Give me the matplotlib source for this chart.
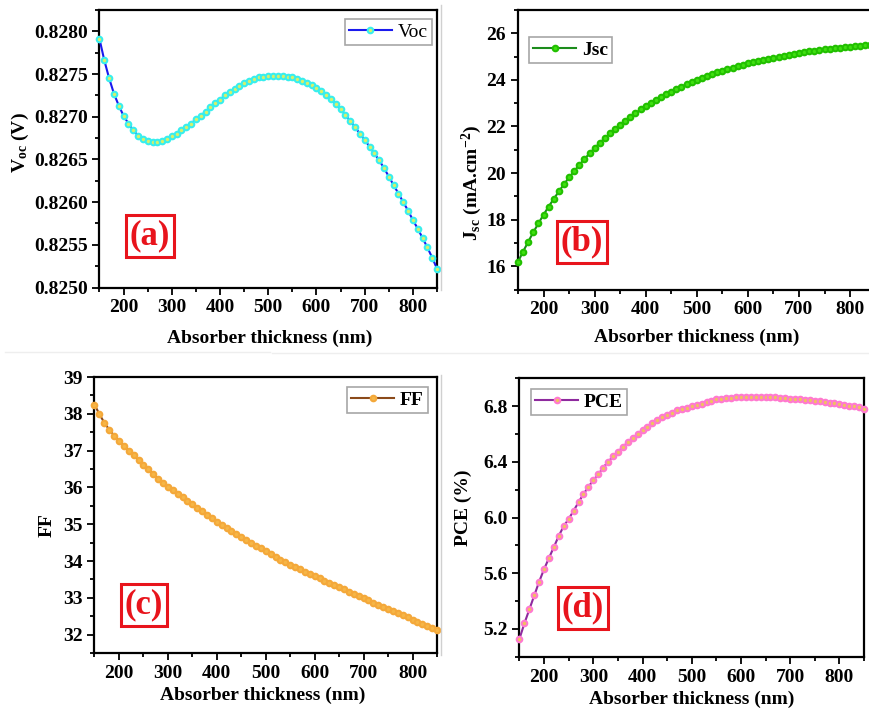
import matplotlib
matplotlib.use("Agg")
import matplotlib.pyplot as plt
from matplotlib.ticker import MultipleLocator, FormatStrFormatter
from matplotlib.lines import Line2D

plt.rcParams['font.family'] = ['Liberation Serif', 'DejaVu Serif']
plt.rcParams['font.weight'] = 'bold'
plt.rcParams['mathtext.fontset'] = 'custom'
plt.rcParams['mathtext.rm'] = 'Liberation Serif:bold'
plt.rcParams['mathtext.it'] = 'Liberation Serif:bold'
plt.rcParams['mathtext.bf'] = 'Liberation Serif:bold'

thickness = list(range(150, 851, 10))

voc = [0.82791, 0.82766, 0.82745, 0.82727, 0.82713, 0.82701, 0.82692, 0.82684, 0.82678, 0.82674,
       0.82671, 0.82670, 0.82670, 0.82672, 0.82674, 0.82677, 0.82680, 0.82684, 0.82688, 0.82692,
       0.82697, 0.82701, 0.82706, 0.82711, 0.82716, 0.82720, 0.82725, 0.82729, 0.82733, 0.82736,
       0.82739, 0.82742, 0.82744, 0.82746, 0.82747, 0.82748, 0.82748, 0.82748, 0.82748, 0.82747,
       0.82746, 0.82744, 0.82742, 0.82740, 0.82737, 0.82734, 0.82730, 0.82725, 0.82721, 0.82715,
       0.82709, 0.82702, 0.82695, 0.82688, 0.82680, 0.82673, 0.82665, 0.82657, 0.82649, 0.82640,
       0.82630, 0.82620, 0.82610, 0.82600, 0.82590, 0.82579, 0.82569, 0.82558, 0.82547, 0.82535,
       0.82522]

jsc = [16.19, 16.63, 17.05, 17.46, 17.84, 18.21, 18.56, 18.89, 19.21, 19.52,
       19.81, 20.08, 20.35, 20.60, 20.84, 21.07, 21.29, 21.50, 21.70, 21.89,
       22.08, 22.25, 22.42, 22.57, 22.73, 22.87, 23.01, 23.14, 23.27, 23.39,
       23.50, 23.61, 23.71, 23.81, 23.91, 24.00, 24.08, 24.17, 24.25, 24.32,
       24.39, 24.46, 24.53, 24.59, 24.65, 24.71, 24.76, 24.81, 24.86, 24.91,
       24.95, 25.00, 25.04, 25.08, 25.12, 25.15, 25.19, 25.22, 25.25, 25.28,
       25.31, 25.33, 25.36, 25.38, 25.41, 25.43, 25.45, 25.47, 25.49, 25.51,
       25.53]

ff = [38.25, 37.99, 37.76, 37.57, 37.41, 37.27, 37.13, 37.00, 36.87, 36.74,
      36.61, 36.49, 36.37, 36.24, 36.12, 36.01, 35.92, 35.82, 35.73, 35.63,
      35.54, 35.44, 35.35, 35.25, 35.16, 35.06, 34.97, 34.89, 34.81, 34.73,
      34.65, 34.57, 34.49, 34.42, 34.34, 34.26, 34.19, 34.11, 34.04, 33.97,
      33.90, 33.84, 33.77, 33.71, 33.65, 33.59, 33.53, 33.47, 33.41, 33.35,
      33.29, 33.23, 33.17, 33.11, 33.05, 32.99, 32.93, 32.87, 32.81, 32.76,
      32.70, 32.64, 32.58, 32.52, 32.47, 32.41, 32.35, 32.29, 32.24, 32.18,
      32.12]

pce = [5.13, 5.24, 5.34, 5.44, 5.54, 5.63, 5.71, 5.79, 5.87, 5.94,
       5.99, 6.05, 6.11, 6.17, 6.22, 6.27, 6.31, 6.36, 6.40, 6.44,
       6.47, 6.51, 6.54, 6.57, 6.60, 6.63, 6.65, 6.68, 6.70, 6.72,
       6.74, 6.75, 6.77, 6.78, 6.79, 6.80, 6.81, 6.82, 6.83, 6.84,
       6.85, 6.85, 6.86, 6.86, 6.865, 6.87, 6.87, 6.87, 6.87, 6.87,
       6.868, 6.866, 6.864, 6.862, 6.859, 6.856, 6.853, 6.850, 6.847, 6.843,
       6.839, 6.835, 6.831, 6.827, 6.822, 6.817, 6.811, 6.805, 6.799, 6.792,
       6.784]

W, H = 870, 711
fig = plt.figure(figsize=(W / 100, H / 100), dpi=100)


def add_ax(left, top, right, bottom):
    return fig.add_axes([left / W, 1 - bottom / H, (right - left) / W, (bottom - top) / H])


def px2ax(ax, x, y):
    pos = ax.get_position()
    fx, fy = x / W, 1 - y / H
    return (fx - pos.x0) / pos.width, (fy - pos.y0) / pos.height


panels = [
    dict(box=(99.5, 10, 437, 287.5), y=voc, ylim=(0.8250, 0.82825), major=0.0005, minor=0.00025,
         fmt='%.4f', line='#1a1aee', mface='#d6f06a', medge='#38eeee', label='Voc', lweight='normal',
         loc='upper right', legbox=(347, 19, 432, 45), ylabel='V$_{\\mathregular{oc}}$ (V)',
         ylab=(20, 143), xlab=(270, 338), tag='(a)', tagc=(150, 236)),
    dict(box=(518, 10, 875.6, 289.5), y=jsc, ylim=(15, 27), major=2, minor=1,
         fmt='%d', line='#1c8c1c', mface='#3fe010', medge='#22c000', label='Jsc', lweight='bold',
         loc='upper left', legbox=(529, 37, 613, 65),
         ylabel='J$_{\\mathregular{sc}}$ (mA.cm$^{\\mathregular{-2}}$)',
         ylab=(472, 183), xlab=(697, 337), tag='(b)', tagc=(582, 242)),
    dict(box=(94.5, 377, 437, 653), y=ff, ylim=(31.5, 39), major=1, minor=0.5,
         fmt='%d', line='#8b4a1a', mface='#f6b646', medge='#f4a83a', label='FF', lweight='bold',
         loc='upper right', legbox=(350, 387, 428, 414), ylabel='FF',
         ylab=(47, 525), xlab=(263, 695), tag='(c)', tagc=(144, 605)),
    dict(box=(519.5, 378.5, 864, 656.7), y=pce, ylim=(5.0, 7.0), major=0.4, minor=0.2,
         fmt='%.1f', line='#8e2a9e', mface='#f0c060', medge='#ff7ad0', label='PCE', lweight='bold',
         loc='upper left', legbox=(531, 389, 625, 417), ylabel='PCE (%)',
         ylab=(463, 508), xlab=(692, 699), tag='(d)', tagc=(583, 608)),
]

for p in panels:
    ax = add_ax(*p['box'])
    ax.plot(thickness, p['y'], color=p['line'], lw=1.5, marker='o', ms=4.0,
            mfc=p['mface'], mec=p['medge'], mew=1.5, clip_on=False, zorder=3)
    ax.set_xlim(150, 850)
    ax.set_ylim(*p['ylim'])
    ax.xaxis.set_major_locator(MultipleLocator(100))
    ax.xaxis.set_minor_locator(MultipleLocator(50))
    if p['label'] == 'PCE':
        ax.set_yticks([5.2, 5.6, 6.0, 6.4, 6.8])
        ax.set_yticks([5.0, 5.4, 5.8, 6.2, 6.6, 7.0], minor=True)
    else:
        ax.yaxis.set_major_locator(MultipleLocator(p['major']))
        ax.yaxis.set_minor_locator(MultipleLocator(p['minor']))
    ax.yaxis.set_major_formatter(FormatStrFormatter(p['fmt']))
    ax.set_xticks([200, 300, 400, 500, 600, 700, 800])
    ax.tick_params(which='both', direction='out', top=False, right=False,
                   labelsize=14, width=1.3)
    ax.tick_params(which='major', length=5)
    ax.tick_params(which='minor', length=3)
    for lab in ax.get_xticklabels() + ax.get_yticklabels():
        lab.set_fontweight('bold')
    for s in ax.spines.values():
        s.set_linewidth(1.6)
    ax.set_xlabel('Absorber thickness (nm)', fontsize=14, fontweight='bold', va='center')
    ax.xaxis.set_label_coords(*px2ax(ax, *p['xlab']))
    ax.set_ylabel(p['ylabel'], fontsize=14, fontweight='bold', va='center')
    ax.yaxis.set_label_coords(*px2ax(ax, *p['ylab']))

    h = Line2D([], [], color=p['line'], lw=1.5, marker='o', ms=4.0,
               mfc=p['mface'], mec=p['medge'], mew=1.5)
    lb = p['legbox']
    if p['loc'] == 'upper right':
        anchor = px2ax(ax, lb[2], lb[1])
    else:
        anchor = px2ax(ax, lb[0], lb[1])
    leg = ax.legend([h], [p['label']], loc=p['loc'], bbox_to_anchor=anchor,
                    borderaxespad=0, frameon=True, fancybox=False, numpoints=1,
                    handlelength=2.2, handletextpad=0.3, borderpad=0.22,
                    prop={'family': 'Liberation Serif', 'weight': p['lweight'], 'size': 14})
    leg.get_frame().set_edgecolor('#909090')
    leg.get_frame().set_linewidth(1.2)

    tx, ty = px2ax(ax, *p['tagc'])
    ax.text(tx, ty, p['tag'], transform=ax.transAxes, ha='center', va='center',
            color='#e8141c', fontsize=25, fontweight='bold',
            bbox=dict(boxstyle='square,pad=0.12', fc='white', ec='#e8141c', lw=2.2))

# faint separators between the sub-images
fig.add_artist(Line2D([441.5 / W, 441.5 / W], [1 - 5 / H, 1 - 290 / H], color='#d0d0d0', lw=1))
fig.add_artist(Line2D([441.5 / W, 441.5 / W], [1 - 375 / H, 1 - 655 / H], color='#d0d0d0', lw=1))
fig.add_artist(Line2D([5 / W, 270 / W], [1 - 352 / H, 1 - 352 / H], color='#eeeeee', lw=1))
fig.add_artist(Line2D([272 / W, 870 / W], [1 - 353 / H, 1 - 353 / H], color='#eeeeee', lw=1))

fig.savefig('out.png', dpi=100)
